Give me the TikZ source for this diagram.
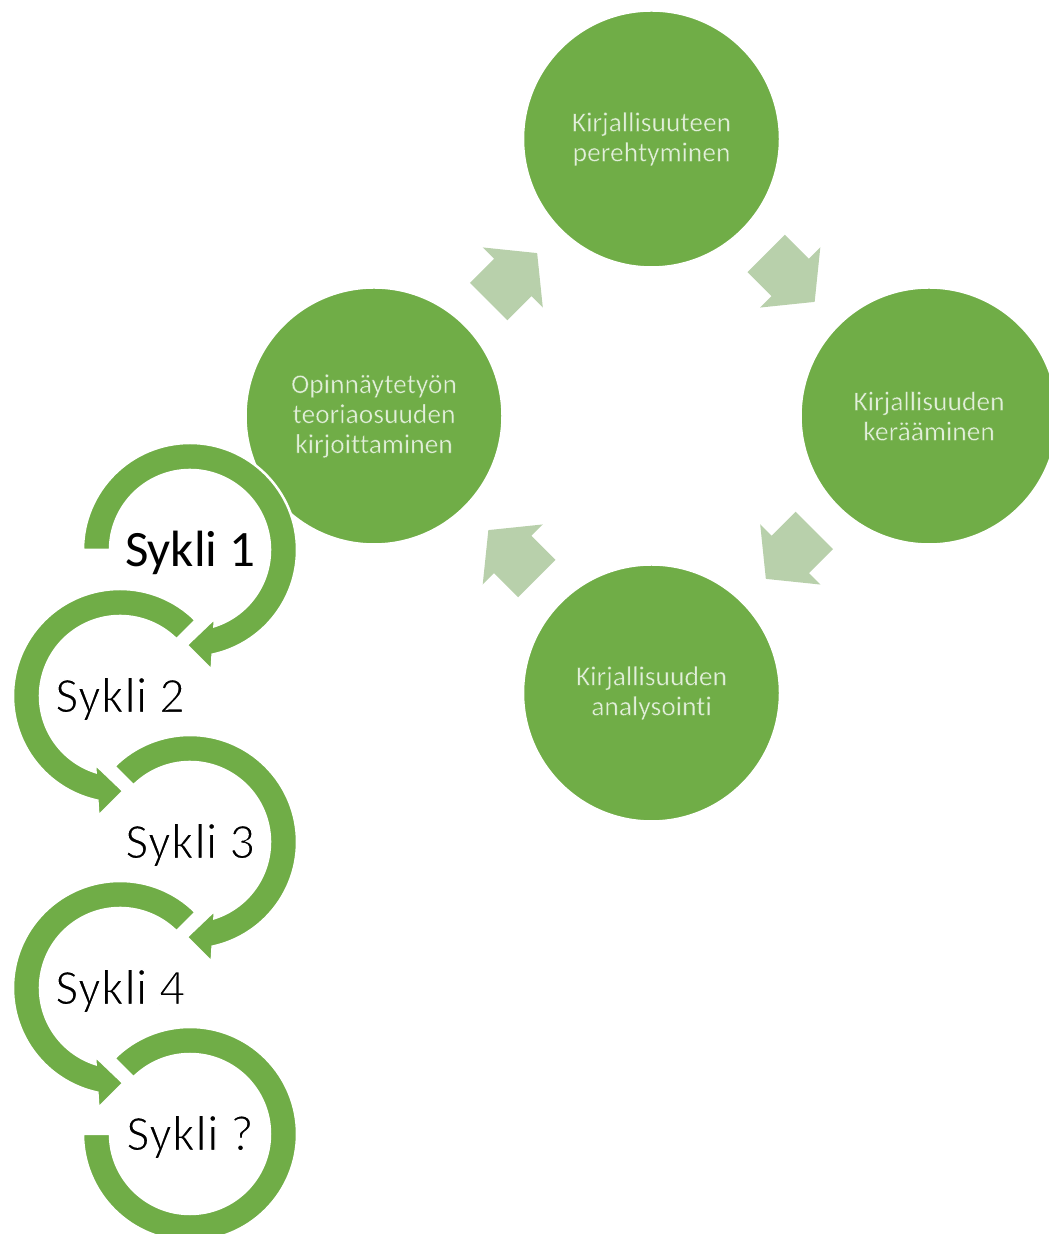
\documentclass[tikz,border=0pt]{standalone}
\usepackage{fontspec}
\setmainfont{Carlito}[Ligatures=NoCommon]
\usetikzlibrary{calc}

\definecolor{leaf}{HTML}{70AD47}
\definecolor{paleleaf}{RGB}{184,208,171}
\definecolor{mist}{RGB}{226,239,218}

% glyphs outlined in a background colour, which makes them look lighter
\newcommand\lightglyphs[3]{%
  \special{pdf:literal direct 2 Tr #2 w #1 RG}#3\special{pdf:literal direct 0 Tr}}

\tikzset{
  stage/.style={circle, fill=leaf, draw=white, line width=1.5pt, minimum size=256pt,
    inner sep=0pt, text=mist, align=center, font=\fontsize{27.5}{30}\selectfont},
  flowarrow/.style={fill=paleleaf},
  ring/.style={fill=leaf, draw=white, line width=2.5pt, line join=miter},
  cyclelabel/.style={anchor=base, inner sep=0pt, text=black, font=\fontsize{51}{61}\selectfont},
}

% wide block arrow halfway between two stages, pointing along #3 degrees
\newcommand\stagearrow[3]{%
  \fill[flowarrow, shift={($(#1)!0.5!(#2)$)}, rotate=#3]
    (-34,-26.5) -- (0,-26.5) -- (0,-42.5) -- (34.5,0) -- (0,42.5) -- (0,26.5) -- (-34,26.5) -- cycle;}

% clockwise circular arrow around #1, tail at angle #2, head at the bottom
\newcommand\ringcw[2]{%
  \filldraw[ring] ($(#1)+(#2:107)$) arc[start angle=#2, end angle=-77.8, radius=107]
    -- ($(#1)+(21.7,-120)$) -- ($(#1)+(-3.3,-95)$) -- ($(#1)+(25,-68)$)
    -- ($(#1)+(-72.2:80)$) arc[start angle=-72.2, end angle=#2, radius=80] -- cycle;}

% counter-clockwise circular arrow around #1, tail at angle #2, head at the bottom
\newcommand\ringccw[2]{%
  \filldraw[ring] ($(#1)+(#2:107)$) arc[start angle=#2, end angle=257.8, radius=107]
    -- ($(#1)+(-21.7,-120)$) -- ($(#1)+(3.3,-95)$) -- ($(#1)+(-25,-68)$)
    -- ($(#1)+(252.2:80)$) arc[start angle=252.2, end angle=#2, radius=80] -- cycle;}

\begin{document}
\begin{tikzpicture}[x=1pt,y=1pt]
  \useasboundingbox (0,0) rectangle (1049,1234);
  \clip (0,0) rectangle (1049,1234);

  % positions of the four stages of the cycle
  \coordinate (read)    at (651.5,1095);
  \coordinate (collect) at (929,818);
  \coordinate (analyse) at (651.5,541);
  \coordinate (write)   at (374,818);

  % centres of the iteration rings
  \coordinate (s1) at (190,684);
  \coordinate (s2) at (120,538);
  \coordinate (s3) at (190,392);
  \coordinate (s4) at (120,246);
  \coordinate (s5) at (190,100);

  % arrows between the stages
  \stagearrow{write}{read}{45}
  \stagearrow{read}{collect}{-45}
  \stagearrow{collect}{analyse}{-135}
  \stagearrow{analyse}{write}{135}

  % stages
  \node[stage] (n-read)    at (read)    {\lightglyphs{0.44 0.68 0.28}{0.35}{Kirjallisuuteen\\perehtyminen}};
  \node[stage] (n-collect) at (collect) {\lightglyphs{0.44 0.68 0.28}{0.35}{Kirjallisuuden\\kerääminen}};
  \node[stage] (n-analyse) at (analyse) {\lightglyphs{0.44 0.68 0.28}{0.35}{Kirjallisuuden\\analysointi}};
  \node[stage] (n-write)   at (write)   {\lightglyphs{0.44 0.68 0.28}{0.35}{Opinnäytetyön\\teoriaosuuden\\kirjoittaminen}};

  % iteration rings, last one at the back
  \filldraw[ring] ($(s5)+(135:107)$) arc[start angle=135, end angle=-180, radius=107]
    -- ($(s5)+(-180:80)$) arc[start angle=-180, end angle=135, radius=80] -- cycle;
  \ringccw{s4}{45}
  \ringcw{s3}{135}
  \ringccw{s2}{45}
  \ringcw{s1}{180}

  % ring labels
  \node[cyclelabel] (t1) at ($(s1)+(0,-16.5)$) {Sykli 1};
  \node[cyclelabel] (t2) at ($(s2)+(0,-16.5)$) {\lightglyphs{1 1 1}{1.4}{Sykli 2}};
  \node[cyclelabel] (t3) at ($(s3)+(0,-16.5)$) {\lightglyphs{1 1 1}{1.4}{Sykli 3}};
  \node[cyclelabel] (t4) at ($(s4)+(0,-16.5)$) {\lightglyphs{1 1 1}{1.4}{Sykli 4}};
  \node[cyclelabel] (t5) at ($(s5)+(0,-16.5)$) {\lightglyphs{1 1 1}{1.4}{Sykli ?}};
\end{tikzpicture}
\end{document}
